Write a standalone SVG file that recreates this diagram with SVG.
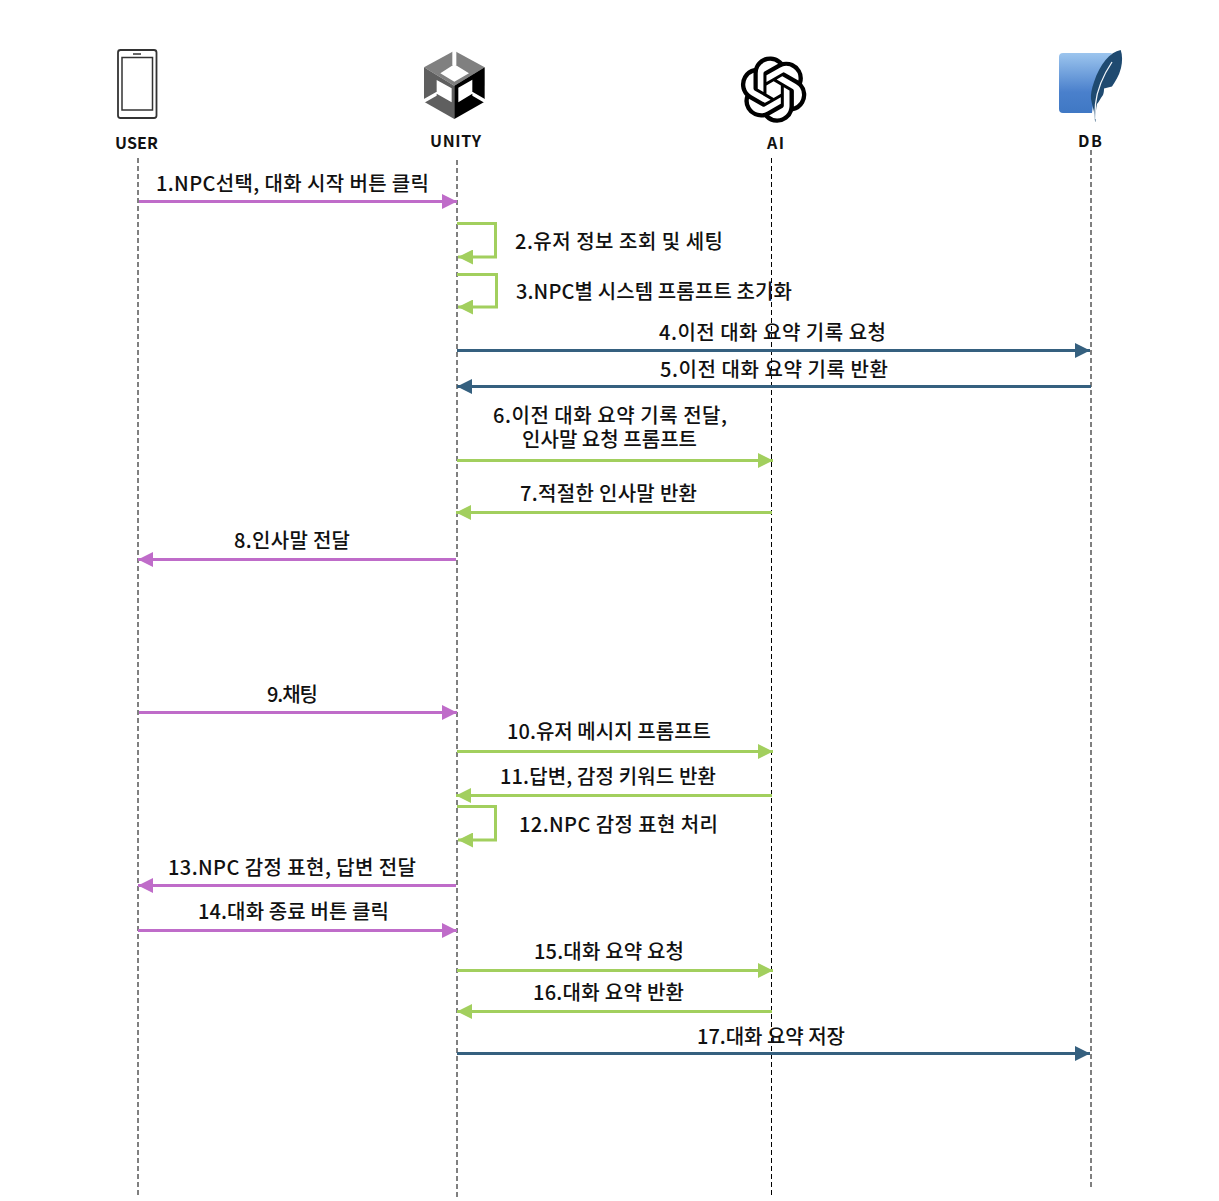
<svg xmlns="http://www.w3.org/2000/svg" width="1219" height="1201" viewBox="0 0 1219 1201">
<style>
text{font-family:"Noto Sans CJK KR","Noto Sans",sans-serif;font-size:20px;font-weight:500;fill:#111}
.h{font-size:16px;font-weight:700}
.life{stroke:#000;stroke-width:1;stroke-dasharray:5 3;fill:none}
.p,.g,.n{fill:none;stroke-width:3}
.p{stroke:#bf6cc9}.g{stroke:#a2cf5e}.n{stroke:#35607f}
</style>
<defs>
<marker id="mp" viewBox="0 0 15 15" refX="15" refY="7.500" markerWidth="15" markerHeight="15" markerUnits="userSpaceOnUse" orient="auto"><path d="M0 0L15 7.500L0 15Z" fill="#bf6cc9"/></marker>
<marker id="mg" viewBox="0 0 15 15" refX="15" refY="7.500" markerWidth="15" markerHeight="15" markerUnits="userSpaceOnUse" orient="auto"><path d="M0 0L15 7.500L0 15Z" fill="#a2cf5e"/></marker>
<marker id="mn" viewBox="0 0 15 15" refX="15" refY="7.500" markerWidth="15" markerHeight="15" markerUnits="userSpaceOnUse" orient="auto"><path d="M0 0L15 7.500L0 15Z" fill="#35607f"/></marker>
<linearGradient id="sq" x1="0" y1="0" x2="0" y2="1"><stop offset="0" stop-color="#9cc5ee"/><stop offset="0.65" stop-color="#4a80cc"/><stop offset="1" stop-color="#3f78c4"/></linearGradient>
</defs>

<g id="lifelines">
<path class="life" d="M138 158V1196"/>
<path class="life" d="M457 160V1199"/>
<path class="life" d="M771.500 158V1196"/>
<path class="life" d="M1091 150V1189"/>
</g>

<g id="user">
<rect x="118" y="50" width="38.500" height="68" rx="2.500" fill="#fff" stroke="#333" stroke-width="1.800"/>
<rect x="122" y="57.500" width="30.500" height="52.500" fill="none" stroke="#333" stroke-width="1.500"/>
<path d="M133 54h8" stroke="#333" stroke-width="1.500"/>
<text class="h" x="115" y="149" textLength="43">USER</text>
</g>

<g id="unity">
<g transform="translate(415 45) scale(.3333)">
<path d="M118 17L209 67L118 122L27 67Z" fill="#808080"/>
<path d="M27 67L118 122V222L27 170Z" fill="#5f5f5f"/>
<path d="M209 67L118 122V222L209 170Z" fill="#000"/>
<path d="M112 8H124V60H112ZM118 58L162 85L118 110L76 85ZM65 105L110 130V172L65 146ZM130 128L172 104V146L130 172ZM20 166L65 140V152L20 178ZM216 166L172 140V152L216 178Z" fill="#fff"/>
</g>
<text class="h" x="430" y="147" textLength="51">UNITY</text>
</g>

<g id="ai">
<path transform="translate(740.500 56.500) scale(2.760)" fill="#000" d="M22.2819 9.8211a5.9847 5.9847 0 0 0-.5157-4.9108 6.0462 6.0462 0 0 0-6.5098-2.9A6.0651 6.0651 0 0 0 4.9807 4.1818a5.9847 5.9847 0 0 0-3.9977 2.9 6.0462 6.0462 0 0 0 .7427 7.0966 5.98 5.98 0 0 0 .511 4.9107 6.051 6.051 0 0 0 6.5146 2.9001A5.9847 5.9847 0 0 0 13.2599 24a6.0557 6.0557 0 0 0 5.7718-4.2058 5.9894 5.9894 0 0 0 3.9977-2.9001 6.0557 6.0557 0 0 0-.7475-7.0729zm-9.022 12.6081a4.4755 4.4755 0 0 1-2.8764-1.0408l.1419-.0804 4.7783-2.7582a.7948.7948 0 0 0 .3927-.6813v-6.7369l2.02 1.1686a.071.071 0 0 1 .038.052v5.5826a4.504 4.504 0 0 1-4.4945 4.4944zm-9.6607-4.1254a4.4708 4.4708 0 0 1-.5346-3.0137l.142.0852 4.783 2.7582a.7712.7712 0 0 0 .7806 0l5.8428-3.3685v2.3324a.0804.0804 0 0 1-.0332.0615L9.74 19.9502a4.4992 4.4992 0 0 1-6.1408-1.6464zM2.3408 7.8956a4.485 4.485 0 0 1 2.3655-1.9728V11.6a.7664.7664 0 0 0 .3879.6765l5.8144 3.3543-2.0201 1.1685a.0757.0757 0 0 1-.071 0l-4.8303-2.7865A4.504 4.504 0 0 1 2.3408 7.872zm16.5963 3.8558L13.1038 8.364 15.1192 7.2a.0757.0757 0 0 1 .071 0l4.8303 2.7913a4.4944 4.4944 0 0 1-.6765 8.1042v-5.6772a.79.79 0 0 0-.407-.667zm2.0107-3.0231l-.142-.0852-4.7735-2.7818a.7759.7759 0 0 0-.7854 0L9.409 9.2297V6.8974a.0662.0662 0 0 1 .0284-.0615l4.8303-2.7866a4.4992 4.4992 0 0 1 6.6802 4.66zM8.3065 12.863l-2.02-1.1638a.0804.0804 0 0 1-.038-.0567V6.0742a4.4992 4.4992 0 0 1 7.3757-3.4537l-.142.0805L8.704 5.459a.7948.7948 0 0 0-.3927.6813zm1.0976-2.3654l2.602-1.4998 2.6069 1.4998v2.9994l-2.5974 1.4997-2.6067-1.4997Z"/>
<text class="h" x="767" y="149" textLength="17">AI</text>
</g>

<g id="db">
<path d="M1063 53H1112L1096 80L1092 113H1063A4 4 0 0 1 1059 109V57A4 4 0 0 1 1063 53Z" fill="url(#sq)"/>
<path d="M1120.700 50C1110 52 1100 64 1094 82C1091.500 89 1090.500 95 1091 99C1092 105 1094 110 1094.500 115C1094.800 119 1095 122 1095.500 122C1095.500 114 1096 108 1097 104C1099 102 1100 99 1103 95C1104 92 1104 90 1104 88.500L1112 86.500C1115 82 1119 76 1121 68C1122.500 62 1122.500 55 1120.700 50Z" fill="#1f4a70"/>
<path d="M1112 62C1104 74 1097 90 1095.500 104C1095 110 1095 114 1095.300 119" fill="none" stroke="#f2f6fa" stroke-width="1.300"/>
<text class="h" x="1078" y="147" textLength="24">DB</text>
</g>

<g id="connectors">
<path class="p" marker-end="url(#mp)" d="M139 201.500H457"/>
<path class="g" marker-end="url(#mg)" d="M457 223.500H495.500V257H458"/>
<path class="g" marker-end="url(#mg)" d="M457 274.500H496.500V307H458"/>
<path class="n" marker-end="url(#mn)" d="M457 350.500H1090"/>
<path class="n" marker-end="url(#mn)" d="M1091 386.500H457"/>
<path class="g" marker-end="url(#mg)" d="M457 460.500H773"/>
<path class="g" marker-end="url(#mg)" d="M772 512.500H456"/>
<path class="p" marker-end="url(#mp)" d="M456 559.500H138"/>
<path class="p" marker-end="url(#mp)" d="M139 712.500H457"/>
<path class="g" marker-end="url(#mg)" d="M457 751.500H773"/>
<path class="g" marker-end="url(#mg)" d="M772 795.500H456"/>
<path class="g" marker-end="url(#mg)" d="M457 806.500H495.500V840H458"/>
<path class="p" marker-end="url(#mp)" d="M456 885.500H138"/>
<path class="p" marker-end="url(#mp)" d="M138 930.500H457"/>
<path class="g" marker-end="url(#mg)" d="M457 970.500H773"/>
<path class="g" marker-end="url(#mg)" d="M772 1011.500H457"/>
<path class="n" marker-end="url(#mn)" d="M457 1053.500H1090"/>
</g>

<g id="labels">
<text x="156" y="191" textLength="273">1.NPC선택, 대화 시작 버튼 클릭</text>
<text x="515" y="249" textLength="208">2.유저 정보 조회 및 세팅</text>
<text x="516" y="299" textLength="276">3.NPC별 시스템 프롬프트 초기화</text>
<text x="659" y="340" textLength="227">4.이전 대화 요약 기록 요청</text>
<text x="660" y="377" textLength="228">5.이전 대화 요약 기록 반환</text>
<text x="493" y="423" textLength="234">6.이전 대화 요약 기록 전달,</text>
<text x="522" y="447" textLength="175">인사말 요청 프롬프트</text>
<text x="520" y="501" textLength="177">7.적절한 인사말 반환</text>
<text x="234" y="548" textLength="116">8.인사말 전달</text>
<text x="267" y="702" textLength="51">9.채팅</text>
<text x="507" y="739" textLength="204">10.유저 메시지 프롬프트</text>
<text x="500" y="784" textLength="216">11.답변, 감정 키워드 반환</text>
<text x="519" y="832" textLength="199">12.NPC 감정 표현 처리</text>
<text x="168" y="875" textLength="248">13.NPC 감정 표현, 답변 전달</text>
<text x="198" y="919" textLength="191">14.대화 종료 버튼 클릭</text>
<text x="534" y="959" textLength="150">15.대화 요약 요청</text>
<text x="533" y="1000" textLength="151">16.대화 요약 반환</text>
<text x="697" y="1044" textLength="148">17.대화 요약 저장</text>
</g>
</svg>
